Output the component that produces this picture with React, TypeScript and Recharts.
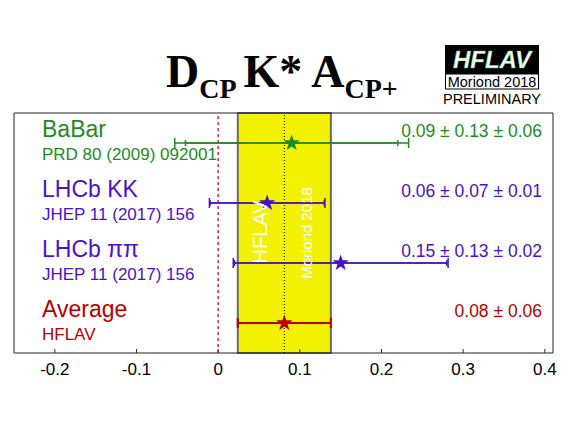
import React from 'react'
import {
  ComposedChart,
  Scatter,
  ErrorBar,
  XAxis,
  YAxis,
  ReferenceArea,
  ReferenceLine,
} from 'recharts'

// measurements, top to bottom
const experiments = ['BaBar', 'LHCb KK', 'LHCb ππ']
const references = ['PRD 80 (2009) 092001', 'JHEP 11 (2017) 156', 'JHEP 11 (2017) 156']
const values = [0.09, 0.06, 0.15]
const statErrors = [0.13, 0.07, 0.13]
const systErrors = [0.06, 0.01, 0.02]
const valueLabels = ['0.09 ± 0.13 ± 0.06', '0.06 ± 0.07 ± 0.01', '0.15 ± 0.13 ± 0.02']

// HFLAV average
const averageValue = 0.081
const averageError = 0.057
const averageLabel = '0.08 ± 0.06'

const majorTicks = [-0.2, -0.1, 0, 0.1, 0.2, 0.3, 0.4]
const minorTicks = Array.from({ length: 66 }, (_, i) => Math.round((-0.25 + i * 0.01) * 1000) / 1000)

const rowColors = ['#1f8a1f', '#4a12c6', '#4a12c6']
const avgColor = '#b80000'
const font = '"Liberation Sans", Arial, Helvetica, sans-serif'

const W = 567
const H = 425
const top = 113
const bottom = 353
const rowCount = 4
const rowH = (bottom - top) / rowCount

const rows = experiments.map((name, i) => ({
  name,
  ref: references[i],
  label: valueLabels[i],
  color: rowColors[i],
  data: [
    {
      x: values[i],
      y: rowCount - i - 0.5,
      stat: statErrors[i],
      total: Math.sqrt(statErrors[i] ** 2 + systErrors[i] ** 2),
    },
  ],
}))

const avgData = [{ x: averageValue, y: 0.5, total: averageError }]

const Star = (props: any) => {
  const { cx, cy, fill } = props
  if (cx == null || cy == null) return null
  const pts: string[] = []
  for (let k = 0; k < 10; k++) {
    const r = k % 2 === 0 ? 8.5 : 3.4
    const a = -Math.PI / 2 + (k * Math.PI) / 5
    pts.push(`${cx + r * Math.cos(a)},${cy + r * Math.sin(a)}`)
  }
  return <polygon points={pts.join(' ')} fill={fill} />
}

export default function App() {
  const rowY = (i: number) => top + rowH * (i + 0.5)
  return (
    <div style={{ position: 'absolute', left: 0, top: 0, width: W, height: H, background: '#fff' }}>
      <ComposedChart width={W} height={H} margin={{ top, right: 14, left: 14, bottom: 42 }}>
        <XAxis
          type="number"
          dataKey="x"
          domain={[-0.25, 0.41]}
          allowDataOverflow
          ticks={majorTicks}
          axisLine={false}
          tickSize={-4}
          tickMargin={14}
          tickLine={{ stroke: '#333' }}
          tick={{ fill: '#000', fontSize: 17, fontFamily: font }}
          tickFormatter={(v: number) => `${v}`}
          height={30}
        />
        <XAxis
          xAxisId="minor"
          type="number"
          dataKey="x"
          domain={[-0.25, 0.41]}
          allowDataOverflow
          ticks={minorTicks}
          axisLine={false}
          tickSize={-2}
          tickLine={{ stroke: '#555' }}
          tick={false}
          height={0}
          orientation="bottom"
        />
        <XAxis
          xAxisId="top"
          type="number"
          dataKey="x"
          domain={[-0.25, 0.41]}
          allowDataOverflow
          ticks={majorTicks}
          axisLine={false}
          tickSize={-4}
          tickLine={{ stroke: '#333' }}
          tick={false}
          height={0}
          orientation="top"
        />
        <XAxis
          xAxisId="topMinor"
          type="number"
          dataKey="x"
          domain={[-0.25, 0.41]}
          allowDataOverflow
          ticks={minorTicks}
          axisLine={false}
          tickSize={-2}
          tickLine={{ stroke: '#555' }}
          tick={false}
          height={0}
          orientation="top"
        />
        <YAxis type="number" dataKey="y" domain={[0, rowCount]} hide />

        <ReferenceArea
          x1={averageValue - averageError}
          x2={averageValue + averageError}
          y1={0}
          y2={rowCount}
          fill="#f2f200"
          fillOpacity={1}
          stroke="#6a6a6a"
          strokeWidth={2}
        />
        <ReferenceLine x={averageValue} stroke="#000" strokeDasharray="1 2" strokeWidth={1} />
        <ReferenceLine x={0} stroke="#c83232" strokeDasharray="3 3" strokeWidth={1.5} />
        <ReferenceArea x1={-0.25} x2={0.41} y1={0} y2={rowCount} fill="none" stroke="#222" strokeWidth={1} />

        {rows.map((r) => (
          <Scatter
            key={r.name}
            data={r.data}
            fill={r.color}
            shape={<Star />}
            isAnimationActive={false}
          >
            <ErrorBar dataKey="total" direction="x" width={5} stroke={r.color} strokeWidth={1.5} />
            <ErrorBar dataKey="stat" direction="x" width={3} stroke={r.color} strokeWidth={1.5} />
          </Scatter>
        ))}
        <Scatter data={avgData} fill={avgColor} shape={<Star />} isAnimationActive={false}>
          <ErrorBar dataKey="total" direction="x" width={5} stroke={avgColor} strokeWidth={2} />
        </Scatter>
      </ComposedChart>

      <svg
        width={W}
        height={H}
        style={{ position: 'absolute', left: 0, top: 0, pointerEvents: 'none' }}
      >
        {/* title */}
        <text fontFamily='"Liberation Serif", "Times New Roman", serif' fontWeight="bold" fill="#000">
          <tspan x={166} y={87} fontSize={46}>D</tspan>
          <tspan dy={11} fontSize={28}>CP</tspan>
          <tspan dy={-11} fontSize={46} dx={7}>K* A</tspan>
          <tspan dy={11} fontSize={28}>CP+</tspan>
        </text>

        {/* HFLAV logo */}
        <rect x={445} y={45} width={94} height={29} fill="#000" />
        <text
          x={492}
          y={68}
          textAnchor="middle"
          fontFamily={font}
          fontWeight="bold"
          fontStyle="italic"
          fontSize={24}
          fill="#fff"
          stroke="#3c3"
          strokeWidth={0.4}
        >
          HFLAV
        </text>
        <rect x={445.5} y={74} width={93} height={15} fill="#fff" stroke="#000" strokeWidth={1} />
        <text x={492} y={87} textAnchor="middle" fontFamily={font} fontSize={14.5} fill="#000">
          Moriond 2018
        </text>
        <text x={492} y={104} textAnchor="middle" fontFamily={font} fontSize={14.5} fill="#000">
          PRELIMINARY
        </text>

        {/* band annotation */}
        <text
          transform="translate(267,232) rotate(-90)"
          textAnchor="middle"
          fontFamily={font}
          fontSize={20}
          fill="#fff"
        >
          HFLAV
        </text>
        <text
          transform="translate(312,233) rotate(-90)"
          textAnchor="middle"
          fontFamily={font}
          fontSize={15}
          fill="#fff"
        >
          Moriond 2018
        </text>

        {/* row labels */}
        {rows.map((r, i) => (
          <g key={r.name} fontFamily={font} fill={r.color}>
            <text x={42} y={rowY(i) - 6} fontSize={23}>{r.name}</text>
            <text x={42} y={rowY(i) + 17} fontSize={17}>{r.ref}</text>
            <text x={542} y={rowY(i) - 6} fontSize={17.5} textAnchor="end">{r.label}</text>
          </g>
        ))}
        <g fontFamily={font} fill={avgColor}>
          <text x={42} y={rowY(3) - 6} fontSize={23}>Average</text>
          <text x={42} y={rowY(3) + 17} fontSize={17}>HFLAV</text>
          <text x={542} y={rowY(3) - 6} fontSize={17.5} textAnchor="end">{averageLabel}</text>
        </g>
      </svg>
    </div>
  )
}
